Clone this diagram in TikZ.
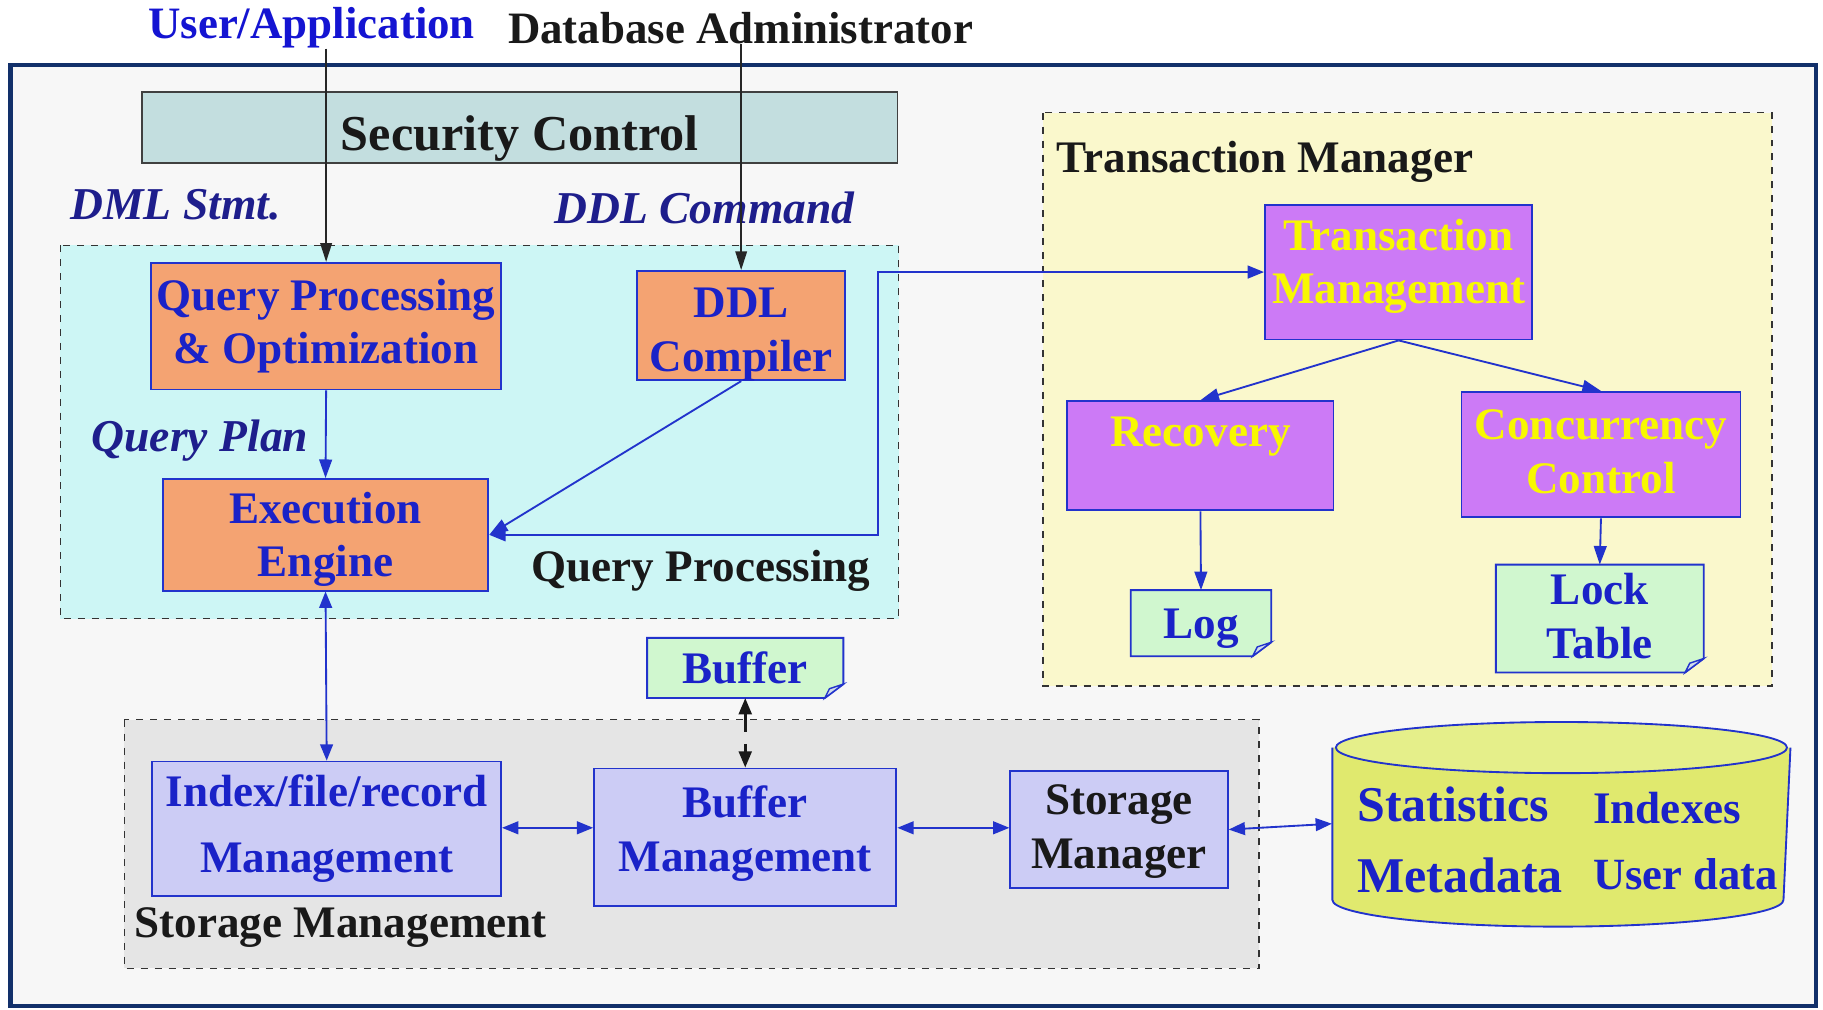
\documentclass[tikz,border=0pt]{standalone}
\usepackage{fontspec}
\setmainfont{Liberation Serif}
\usetikzlibrary{arrows.meta,backgrounds}
\definecolor{framecol}{HTML}{12306A}
\definecolor{framebg}{HTML}{F7F7F7}
\definecolor{secfill}{HTML}{C3DEDF}
\definecolor{qpfill}{HTML}{CDF6F5}
\definecolor{txfill}{HTML}{FAF8CC}
\definecolor{stfill}{HTML}{E5E5E5}
\definecolor{orangefill}{HTML}{F4A372}
\definecolor{purplefill}{HTML}{CC7AF6}
\definecolor{notefill}{HTML}{D0F7CF}
\definecolor{lavfill}{HTML}{CCCCF5}
\definecolor{dbbody}{HTML}{E0E96E}
\definecolor{dbtop}{HTML}{E5EF8A}
\definecolor{txtblue}{HTML}{1A22C8}
\definecolor{lineblue}{HTML}{2233CC}
\definecolor{uablue}{HTML}{1414D2}
\definecolor{navytxt}{HTML}{1E1E8C}
\definecolor{yellowtxt}{HTML}{F8F800}
\pgfdeclarelayer{bg}
\pgfdeclarelayer{notes}
\pgfsetlayers{bg,notes,main}
\newcommand\boxfont{\fontsize{19.4pt}{23pt}\selectfont\bfseries}
% text lines raised/lowered inside a box without moving the box
\newcommand\tx[2]{\raisebox{#1}[\height][\depth]{\begin{tabular}{@{}c@{}}#2\end{tabular}}}
\newcommand\notepath[1]{%
  \filldraw[draw=lineblue, line width=0.8pt, fill=notefill]
    (#1.north west) -- (#1.north east) -- ([yshift=6pt]#1.south east)
    -- ([xshift=-8pt]#1.south east) -- (#1.south west) -- cycle;
  \filldraw[draw=lineblue, line width=0.6pt, fill=notefill!60!lineblue!40]
    ([yshift=6pt]#1.south east) -- ([xshift=-8pt]#1.south east)
    -- ([xshift=-6pt,yshift=4pt]#1.south east) -- cycle;}
\begin{document}
\begin{tikzpicture}[x=0.5pt,y=-0.5pt,
  box/.style={draw=lineblue, line width=0.8pt, inner sep=0pt,
    font=\boxfont, text=txtblue},
  orangebox/.style={box, fill=orangefill},
  purplebox/.style={box, fill=purplefill, text=yellowtxt},
  lavbox/.style={box, fill=lavfill},
  notebox/.style={inner sep=0pt, font=\boxfont, text=txtblue},
  region/.style={draw=black!80, dashed, line width=0.6pt},
  heading/.style={font=\boxfont, text=black!90, inner sep=0pt},
  italiclabel/.style={font={\fontsize{19.6pt}{23pt}\selectfont\bfseries\itshape}, text=navytxt, inner sep=0pt},
  dbtext/.style={inner sep=0pt, anchor=base west, text=txtblue},
  arr/.style={draw=lineblue, line width=0.8pt, -{Triangle[length=8pt,width=5.5pt]}},
  darr/.style={draw=lineblue, line width=0.8pt, {Triangle[length=7pt,width=5.5pt]}-{Triangle[length=7pt,width=5.5pt]}},
  blackarr/.style={draw=black!85, line width=0.6pt, -{Triangle[length=8pt,width=5pt]}},
  dasharr/.style={draw=black!90, line width=1.2pt, dashed, dash pattern=on 8pt off 5pt,
    {Triangle[length=7pt,width=5.5pt]}-{Triangle[length=7pt,width=5.5pt]}}
]
\useasboundingbox (0,0) rectangle (1568,868);
\begin{pgfonlayer}{bg}
  \fill[white] (0,0) rectangle (1568,868);
  \draw[framecol, line width=1.8pt, fill=framebg] (9,56) rectangle (1562,865);
  \draw[region, fill=qpfill] (52,211) rectangle (773,532);
  \draw[region, fill=txfill] (897,97) rectangle (1524,590);
  \draw[region, fill=stfill] (107,619) rectangle (1083,833);
  % database cylinder
  \fill[dbbody] (1146,643) -- (1146,774) arc[start angle=180, end angle=360, x radius=97pt, y radius=11.5pt] -- (1540,643) -- cycle;
  \draw[lineblue, line width=0.8pt] (1146,643) -- (1146,774) arc[start angle=180, end angle=360, x radius=97pt, y radius=11.5pt] -- (1540,643);
  \filldraw[draw=lineblue, line width=0.8pt, fill=dbtop] (1343,643) ellipse[x radius=97pt, y radius=11pt];
\end{pgfonlayer}

% titles
\node[heading, text=uablue, font={\fontsize{19.3pt}{23pt}\selectfont\bfseries}] (ua) at (268,24) {User/Application};
\node[heading, font={\fontsize{19.3pt}{23pt}\selectfont\bfseries}] (dba) at (637,24) {Database Administrator};

% security control
\node[draw=black!75, line width=0.8pt, fill=secfill, minimum width=325pt, minimum height=30.5pt, inner sep=0pt,
  font={\fontsize{21.6pt}{25pt}\selectfont\bfseries}, text=black!90] (sec) at (447,109.5) {\tx{-5pt}{Security Control}};

% labels
\node[italiclabel] (dml) at (151,176) {DML Stmt.};
\node[italiclabel] (ddlc) at (606,179) {DDL Command};
\node[italiclabel] (qplan) at (172,379) {Query Plan};
\node[heading] (qplabel) at (603,491) {Query Processing};
\node[heading] (txlabel) at (1088,139) {Transaction Manager};
\node[heading] (stlabel) at (293,798) {Storage Management};

% query processing boxes
\node[orangebox, minimum width=150.5pt, minimum height=54.5pt] (qpo) at (280.5,280.5) {\tx{0pt}{Query Processing\\\& Optimization}};
\node[orangebox, minimum width=89.5pt, minimum height=47pt] (ddl) at (637.5,280) {\tx{-3.5pt}{DDL\\Compiler}};
\node[orangebox, minimum width=140pt, minimum height=48pt] (exe) at (280,460) {\tx{-2pt}{Execution\\Engine}};

% transaction manager boxes
\node[purplebox, minimum width=115pt, minimum height=58pt] (tm) at (1203,234) {\tx{2.5pt}{Transaction\\Management}};
\node[purplebox, minimum width=114.5pt, minimum height=47pt] (rec) at (1032.5,392) {\tx{8.5pt}{Recovery}};
\node[purplebox, minimum width=120pt, minimum height=54pt] (cc) at (1377,391) {\tx{-0.5pt}{Concurrency\\Control}};
\node[notebox, minimum width=60pt, minimum height=28pt] (log) at (1033,536) {\tx{-2pt}{Log}};
\node[notebox, minimum width=89pt, minimum height=44pt] (lock) at (1376,532) {\tx{-1pt}{Lock\\Table}};

% storage boxes
\node[notebox, minimum width=84pt, minimum height=25.5pt] (buf) at (641,574.5) {\tx{-2pt}{Buffer}};
\node[lavbox, minimum width=150pt, minimum height=58pt] (idx) at (281,713) {\tx{0pt}{Index/file/record\\[5.5pt]Management}};
\node[lavbox, minimum width=130pt, minimum height=59pt] (bm) at (641,720) {\tx{1.5pt}{Buffer\\Management}};
\node[lavbox, minimum width=93.5pt, minimum height=50.5pt, text=black!90] (sm) at (962.5,713.5) {\tx{-0.5pt}{Storage\\Manager}};

% database (invisible anchor node)
\node[minimum width=197pt, minimum height=65.5pt, inner sep=0pt] (db) at (1343,708.5) {};
\node[dbtext, font={\fontsize{21.5pt}{25pt}\selectfont\bfseries}] (stat) at (1167,707) {Statistics};
\node[dbtext, font={\fontsize{19.4pt}{25pt}\selectfont\bfseries}] (idxs) at (1370,708) {Indexes};
\node[dbtext, font={\fontsize{21.5pt}{25pt}\selectfont\bfseries}] (meta) at (1167,768) {Metadata};
\node[dbtext, font={\fontsize{19.2pt}{25pt}\selectfont\bfseries}] (udata) at (1370,765) {User data};

\begin{pgfonlayer}{notes}
  \notepath{log}
  \notepath{lock}
  \notepath{buf}
\end{pgfonlayer}

% connectors
\draw[blackarr] (qpo.north |- ua.south) -- (qpo.north);
\draw[blackarr] (ddl.north |- dba.south) -- (ddl.north);
\draw[arr] (qpo.south) -- (exe.north);
\draw[arr] (ddl.south) -- (exe.east);
\coordinate (bend) at (755,234);
\draw[darr] (exe.east) -| (bend) -- (tm.west);
\draw[arr] (tm.south) -- (rec.north);
\draw[arr] (tm.south) -- (cc.north);
\draw[arr] (rec.south) -- (log.north);
\draw[arr] (cc.south) -- (lock.north);
\draw[darr] (exe.south) -- (idx.north);
\draw[dasharr] (buf.south) -- (bm.north);
\draw[darr] (idx.east |- 0,712) -- (bm.west |- 0,712);
\draw[darr] (bm.east |- 0,712) -- (sm.west |- 0,712);
\draw[darr] (sm.east) -- (db.west);
\end{tikzpicture}
\end{document}
